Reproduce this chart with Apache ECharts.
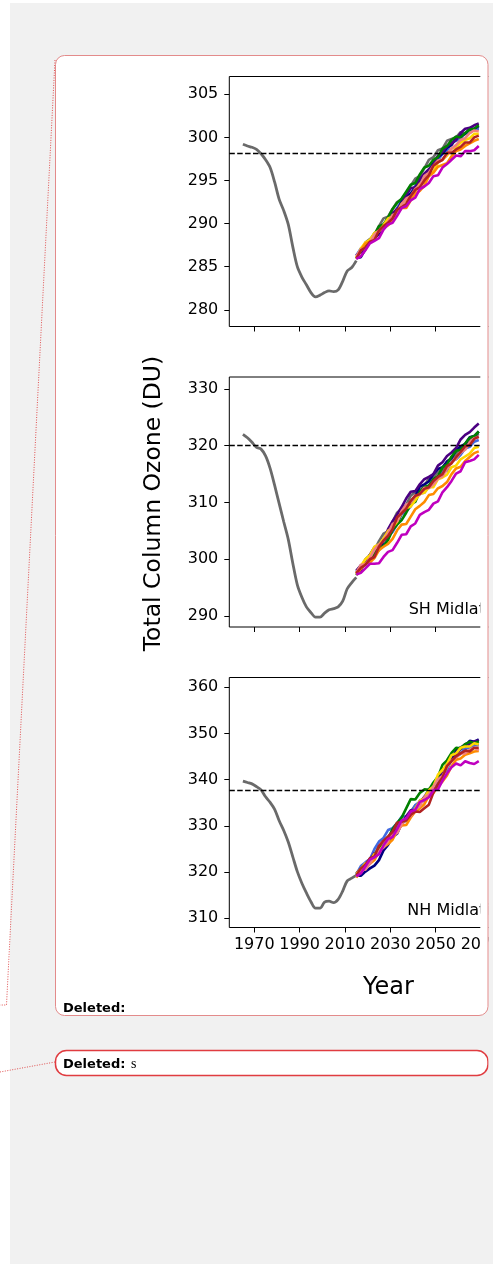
<!DOCTYPE html>
<html>
<head>
<meta charset="utf-8">
<script src="https://cdn.jsdelivr.net/npm/echarts@6/dist/echarts.min.js"></script>
<style>
  html, body { margin: 0; padding: 0; background: #ffffff; overflow: hidden; }
  #chart { width: 600px; height: 1264px; }
</style>
</head>
<body>
<div id="chart"></div>
<script>
// ---- Years ----
const histYears = [1965,1967,1969,1971,1973,1975,1977,1979,1981,1983,1985,1987,1989,1991,1993,1995,1997,1999,2001,2003,2005,2007,2009,2011,2013,2015];
const modelYears = [2015,2017,2019,2021,2023,2025,2027,2029,2031,2033,2035,2037,2039,2041,2043,2045,2047,2049,2051,2053,2055,2057,2059,2061,2063,2065,2067,2069];
const yearTicks = [1970,1990,2010,2030,2050,2070,2090];

// ---- Top panel (DU) ----
const topTicks = [280,285,290,295,300,305];
const topRef = 298.1;
const topHist = [299.2,299.0,298.85,298.6,298.1,297.4,296.5,294.8,292.8,291.5,289.9,287.3,285.0,283.8,282.9,282.0,281.5,281.7,282.0,282.2,282.1,282.3,283.3,284.5,284.9,285.7];
const topGrey    = [286.3,286.7,287.8,288.2,288.7,289.7,290.6,290.8,291.7,292.5,292.8,293.3,294.4,295.2,295.5,296.4,297.4,297.7,298.5,298.7,299.6,299.8,300.0,300.6,300.4,300.9,300.9,301.0];
const topRoyal   = [286.3,287.1,287.5,287.9,288.8,289.3,289.7,290.5,290.8,291.8,292.7,292.8,293.4,294.4,294.9,295.3,296.1,297.0,297.3,298.1,298.4,299.4,299.6,299.8,300.5,300.5,300.9,301.0];
const topNavy    = [286.0,286.1,287.0,287.9,288.3,288.8,289.9,290.3,291.2,291.4,292.6,293.1,293.5,294.1,295.2,295.6,296.1,297.0,297.7,298.1,298.8,299.1,299.9,300.2,300.4,301.0,301.0,301.3];
const topIndigo  = [286.3,286.7,287.1,288.0,288.9,289.0,289.5,290.6,291.2,291.7,292.3,293.3,294.1,294.2,295.1,295.8,296.3,296.8,297.9,298.3,299.0,299.3,299.7,300.5,301.0,301.1,301.4,301.6];
const topGreen   = [286.0,286.9,287.6,288.0,288.7,289.7,289.9,290.7,291.7,292.4,292.9,293.7,294.5,294.7,295.7,296.5,296.7,297.4,297.7,298.7,299.0,299.7,300.1,300.0,300.5,300.9,301.0,301.4];
const topGold    = [286.0,287.1,287.8,288.1,288.9,289.1,289.8,290.6,290.8,291.3,292.3,292.7,292.9,293.8,294.6,294.9,295.7,296.0,297.1,297.4,297.9,298.7,298.8,299.4,299.7,299.9,300.4,300.4];
const topOrange  = [286.0,286.9,287.7,287.9,288.3,289.2,289.5,289.8,290.3,291.2,291.8,291.8,292.7,293.5,293.8,294.4,295.5,295.9,296.6,296.8,297.0,297.8,298.4,298.6,299.0,299.3,299.6,299.8];
const topSalmon  = [286.2,287.0,287.1,287.8,288.7,289.2,289.5,290.2,291.0,291.2,292.2,292.9,293.2,294.0,294.4,295.5,295.9,296.7,297.3,297.4,298.1,298.7,299.1,299.7,299.9,300.5,300.8,300.7];
const topBrown   = [285.9,286.9,287.2,287.9,288.1,289.2,289.7,290.1,290.6,291.6,291.9,292.3,293.2,293.9,294.2,295.0,295.6,296.7,297.1,297.4,298.2,298.2,298.6,298.9,299.4,299.4,300.0,300.2];
const topMagenta = [285.9,286.2,286.9,287.7,288.0,288.3,289.3,289.9,290.1,290.9,291.8,292.0,292.7,293.0,294.0,294.3,294.7,295.5,295.6,296.5,296.9,297.4,297.9,297.8,298.4,298.4,298.5,299.0];

// ---- SH midlatitudes (DU) ----
const shTicks = [290,300,310,320,330];
const shRef = 320.0;
const shHist = [322.0,321.4,320.6,319.7,319.4,318.2,316.0,313.0,309.8,306.6,303.5,299.3,295.5,293.3,291.6,290.6,289.8,289.8,290.5,291.1,291.3,291.6,292.6,294.8,295.9,296.8];
const shGrey    = [297.5,298.2,300.0,300.7,301.6,303.2,304.5,304.9,306.6,308.2,308.9,309.6,311.2,311.9,312.0,313.0,314.2,314.3,315.4,315.7,317.2,317.8,318.6,319.8,320.0,321.2,321.6,322.1];
const shRoyal   = [297.8,298.9,299.4,299.8,301.3,302.2,302.7,304.1,304.8,306.2,307.9,308.4,309.3,310.8,311.6,311.7,312.9,313.8,314.2,315.3,315.6,317.3,317.6,318.4,319.5,319.8,320.7,321.0];
const shNavy    = [297.7,298.1,299.5,300.7,300.8,301.6,303.2,304.1,305.6,306.3,308.3,309.4,310.1,311.1,312.8,313.2,313.7,315.0,315.9,316.2,317.2,317.8,319.2,319.9,320.3,321.5,321.7,322.5];
const shIndigo  = [298.0,298.9,299.3,300.8,302.1,302.4,303.4,305.3,306.7,307.9,309.2,310.7,311.9,312.0,313.2,314.1,314.5,315.0,316.5,317.1,318.2,318.8,319.6,321.1,321.9,322.4,323.2,323.9];
const shGreen   = [297.2,298.5,299.4,299.8,300.8,302.2,302.3,303.4,305.1,306.1,306.9,308.2,309.7,310.1,311.9,312.7,313.0,314.1,314.6,316.2,316.7,318.1,319.1,319.3,320.4,321.4,321.7,322.5];
const shGold    = [297.6,298.8,300.0,300.7,302.2,302.6,303.6,305.0,305.6,306.6,308.2,309.0,309.3,310.4,311.5,311.7,312.7,312.7,314.1,314.4,314.9,316.2,316.5,317.6,318.1,318.6,319.6,319.8];
const shOrange  = [297.3,298.3,299.3,299.4,300.2,301.6,302.2,302.7,303.6,305.1,306.1,306.2,307.5,308.8,309.4,310.1,311.3,311.5,312.5,312.9,313.6,315.0,316.0,316.3,317.3,318.0,318.7,319.0];
const shSalmon  = [297.6,299.0,299.1,300.2,301.7,302.6,303.2,304.6,306.2,306.7,308.5,309.6,310.0,311.2,311.4,312.6,312.5,313.2,314.2,314.6,315.9,317.1,317.7,318.8,319.3,320.6,321.3,321.5];
const shBrown   = [297.5,298.5,299.0,300.0,300.4,302.2,303.3,304.1,305.3,307.4,308.1,308.9,310.3,311.2,311.5,312.4,312.7,313.8,314.5,315.0,316.4,316.9,318.0,318.9,319.9,320.1,321.2,321.6];
const shMagenta = [297.3,297.6,298.4,299.2,299.2,299.3,300.4,301.3,301.6,302.9,304.3,304.4,305.8,306.3,307.8,308.3,308.7,309.8,310.2,311.8,312.7,313.8,315.1,315.5,317.1,317.3,317.6,318.4];

// ---- NH midlatitudes (DU) ----
const nhTicks = [310,320,330,340,350,360];
const nhRef = 337.7;
const nhHist = [339.7,339.4,339.1,338.5,337.8,336.3,335.1,333.6,331.1,329.0,326.5,323.3,320.1,317.6,315.5,313.6,312.2,312.2,313.5,313.7,313.4,314.1,315.9,318.1,318.7,319.3];
const nhGrey    = [319.7,320.1,321.9,322.4,323.1,324.9,326.5,326.7,328.3,329.9,330.5,331.2,333.1,334.4,334.7,336.2,338.0,338.4,340.2,341.1,343.4,344.3,345.2,346.7,346.5,347.5,347.6,347.8];
const nhRoyal   = [319.5,321.3,322.1,322.8,325.0,326.6,327.4,329.1,329.5,330.6,332.0,332.1,332.8,334.5,335.2,335.4,337.1,338.7,339.4,341.2,342.1,344.4,344.9,345.6,346.9,346.8,347.5,347.5];
const nhNavy    = [319.2,319.2,320.1,320.8,321.4,322.6,324.7,325.9,327.7,328.3,330.5,331.4,332.2,333.2,335.4,336.0,336.9,338.8,340.5,341.5,343.3,344.3,346.3,347.0,347.3,348.4,348.2,348.7];
const nhIndigo  = [319.7,320.7,321.1,322.7,324.1,324.4,325.4,327.4,328.5,329.3,330.2,332.1,333.4,333.5,335.0,336.3,337.1,338.1,340.3,341.4,343.2,344.2,345.2,346.8,347.7,347.7,348.3,348.5];
const nhGreen   = [319.0,320.5,321.7,322.2,323.6,325.5,325.8,327.3,329.3,330.6,331.8,333.8,335.8,335.7,337.1,337.9,337.8,339.4,340.6,343.2,344.2,345.8,346.9,346.8,347.7,348.2,347.9,348.3];
const nhGold    = [319.6,320.7,321.9,322.4,323.9,324.4,325.9,327.6,327.9,328.8,330.7,331.6,332.0,333.8,335.4,336.0,337.7,338.5,341.1,342.1,343.4,345.3,345.7,346.9,347.2,347.2,347.9,347.6];
const nhOrange  = [318.8,320.3,321.6,321.8,322.6,324.5,325.4,326.1,327.0,328.9,330.1,330.2,331.8,333.1,333.8,334.7,336.5,337.1,338.6,339.6,340.9,342.9,344.3,344.6,345.4,345.7,346.1,346.2];
const nhSalmon  = [319.0,320.5,320.5,321.8,323.5,324.5,325.3,326.7,328.3,328.4,330.3,331.6,332.1,333.6,334.2,336.2,336.8,338.5,340.1,340.8,342.7,344.2,344.8,345.7,345.7,346.5,346.9,346.4];
const nhBrown   = [319.3,320.8,321.6,323.0,323.4,325.7,326.8,327.7,328.7,330.7,330.9,331.2,332.4,333.1,333.0,333.8,334.6,337.2,339.0,340.5,343.0,344.0,345.1,345.7,346.3,346.1,346.9,346.9];
const nhMagenta = [319.1,319.7,321.2,322.7,323.2,323.9,325.8,327.2,327.6,329.3,331.2,331.6,333.1,333.5,335.2,335.6,336.2,337.7,337.9,339.8,341.4,342.7,343.5,343.1,344.0,343.6,343.4,344.0];

// ---- Styling ----
const histColor = '#6a6a6a';
const modelColors = ['#6a6a6a','#4169e1','#000080','#4b0082','#008000','#ffd700','#ff8c00','#f08080','#b22222','#bf00bf'];
const FONT = 'DejaVu Sans';

const panels = [
  { hist: topHist, models: [topGrey, topRoyal, topNavy, topIndigo, topGreen, topGold, topOrange, topSalmon, topBrown, topMagenta],
    ref: topRef, ticks: topTicks, top: 76.5, min: 278.06, max: 307.06 },
  { hist: shHist, models: [shGrey, shRoyal, shNavy, shIndigo, shGreen, shGold, shOrange, shSalmon, shBrown, shMagenta],
    ref: shRef, ticks: shTicks, top: 377, min: 288.06, max: 332.11 },
  { hist: nhHist, models: [nhGrey, nhRoyal, nhNavy, nhIndigo, nhGreen, nhGold, nhOrange, nhSalmon, nhBrown, nhMagenta],
    ref: nhRef, ticks: nhTicks, top: 677.5, min: 308.01, max: 362.12 }
];

const pair = (xs, ys) => xs.map((x, i) => [x, ys[i]]);

const grids = [], xAxes = [], yAxes = [], series = [];
panels.forEach((p, i) => {
  grids.push({ left: 229.3, top: p.top, width: 317.5, height: 250, show: true,
    borderColor: '#000', borderWidth: 1, backgroundColor: 'transparent', containLabel: false });
  xAxes.push({
    gridIndex: i, type: 'value', min: 1959, max: 2099,
    axisLine: { show: false },
    axisTick: { show: true, length: 5, customValues: yearTicks, lineStyle: { color: '#000', width: 1 } },
    axisLabel: { show: i === 2, customValues: yearTicks, fontSize: 16, fontFamily: FONT, color: '#000', margin: 9,
      hideOverlap: false, showMinLabel: true, showMaxLabel: true, formatter: v => String(v) },
    splitLine: { show: false }
  });
  yAxes.push({
    gridIndex: i, type: 'value', min: p.min, max: p.max,
    axisLine: { show: false },
    axisTick: { show: true, length: 5, customValues: p.ticks, lineStyle: { color: '#000', width: 1 } },
    axisLabel: { customValues: p.ticks, fontSize: 16, fontFamily: FONT, color: '#000', margin: 11,
      formatter: v => String(v) },
    splitLine: { show: false }
  });
  series.push({
    type: 'line', xAxisIndex: i, yAxisIndex: i, data: pair(histYears, p.hist),
    symbol: 'none', smooth: 0.3, lineStyle: { color: histColor, width: 2.8 }, z: 2
  });
  p.models.forEach((vals, k) => {
    const s = {
      type: 'line', xAxisIndex: i, yAxisIndex: i, data: pair(modelYears, vals),
      symbol: 'none', lineStyle: { color: modelColors[k], width: 2.6 }, z: 3
    };
    if (k === p.models.length - 1) {
      s.markLine = {
        silent: true, symbol: ['none', 'none'], label: { show: false }, animation: false,
        lineStyle: { type: [5.5, 2.4], color: '#000', width: 1.3 },
        data: [{ yAxis: p.ref }]
      };
    }
    series.push(s);
  });
});

// Comment-pane frame, balloons and panel captions
const balloonStroke = '#e38b8b';
const graphic = [
  { type: 'rect', z: -20, shape: { x: 10, y: 3, width: 483, height: 1261 }, style: { fill: '#f1f1f1' } },
  { type: 'rect', z: -10, shape: { x: 55.5, y: 55.5, width: 432.5, height: 960, r: 9 }, style: { fill: '#ffffff' } },
  { type: 'rect', z: -10, shape: { x: 55.5, y: 1050.5, width: 432.5, height: 25, r: 11 },
    style: { fill: '#ffffff', stroke: '#e03c40', lineWidth: 1.5 } },
  { type: 'polyline', z: -5, shape: { points: [[55, 60], [6.5, 1005], [0, 1005]] },
    style: { fill: null, stroke: '#e05050', lineWidth: 1, lineDash: [1, 1.5] } },
  { type: 'polyline', z: -5, shape: { points: [[55, 1062], [0, 1072]] },
    style: { fill: null, stroke: '#e05050', lineWidth: 1, lineDash: [1, 1.5] } },
  { type: 'text', z: 10, style: { text: 'Deleted:', x: 63, y: 1008.2, font: 'bold 13px "DejaVu Sans"',
    fill: '#000', textAlign: 'left', textVerticalAlign: 'middle' } },
  { type: 'text', z: 10, style: { text: 'Deleted:', x: 63, y: 1064.8, font: 'bold 13px "DejaVu Sans"',
    fill: '#000', textAlign: 'left', textVerticalAlign: 'middle' } },
  { type: 'text', z: 10, style: { text: 's', x: 131, y: 1064.8, font: '14px "Liberation Serif"',
    fill: '#000', textAlign: 'left', textVerticalAlign: 'middle' } },
  { type: 'text', z: 10, style: { text: 'SH Midlatitudes', x: 408.7, y: 609.5, font: '16px "DejaVu Sans"',
    fill: '#000', textAlign: 'left', textVerticalAlign: 'middle' } },
  { type: 'text', z: 10, style: { text: 'NH Midlatitudes', x: 407.3, y: 910.5, font: '16px "DejaVu Sans"',
    fill: '#000', textAlign: 'left', textVerticalAlign: 'middle' } },
  { type: 'text', z: 10, style: { text: 'Year', x: 388.5, y: 988.2, font: '24px "DejaVu Sans"',
    fill: '#000', textAlign: 'center', textVerticalAlign: 'middle' } },
  { type: 'text', z: 10, x: 154, y: 503.5, rotation: Math.PI / 2,
    style: { text: 'Total Column Ozone (DU)', x: 0, y: 0, font: '23.5px "DejaVu Sans"',
      fill: '#000', textAlign: 'center', textVerticalAlign: 'middle' } },
  // the figure is cropped at the balloon's inner edge
  { type: 'rect', z: 50, shape: { x: 480.3, y: 64, width: 8.2, height: 944 }, style: { fill: '#ffffff' } },
  { type: 'rect', z: 50, shape: { x: 488.5, y: 3, width: 4.5, height: 1261 }, style: { fill: '#f1f1f1' } },
  { type: 'rect', z: 50, shape: { x: 493, y: 0, width: 107, height: 1264 }, style: { fill: '#ffffff' } },
  { type: 'rect', z: 51, shape: { x: 55.5, y: 55.5, width: 432.5, height: 960, r: 9 },
    style: { fill: null, stroke: balloonStroke, lineWidth: 1 } }
];

const chart = echarts.init(document.getElementById('chart'), null, { renderer: 'canvas' });
chart.setOption({
  animation: false,
  backgroundColor: '#ffffff',
  textStyle: { fontFamily: FONT },
  grid: grids,
  xAxis: xAxes,
  yAxis: yAxes,
  series: series,
  graphic: graphic
});
</script>
</body>
</html>
